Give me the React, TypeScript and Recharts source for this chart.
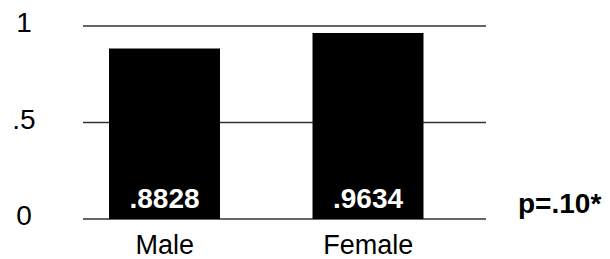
import { BarChart, Bar, XAxis, YAxis, CartesianGrid, LabelList } from "recharts";

const GROUPS = ["Male", "Female"];
const MEANS = [0.8828, 0.9634];
const Y_TICKS = [0, 0.5, 1];
const Y_TICK_LABELS = ["0", ".5", "1"];
const P_NOTE = "p=.10*";

const data = GROUPS.map((g, i) => ({ group: g, mean: MEANS[i] }));

const FONT = "'Liberation Sans', Arial, sans-serif";

function YTick({ y, payload }: any) {
  const idx = Y_TICKS.indexOf(payload.value);
  return (
    <text x={24} y={y + 6} textAnchor="middle" fontFamily={FONT} fontSize={28} fill="#000">
      {Y_TICK_LABELS[idx]}
    </text>
  );
}

function XTick({ x, y, payload }: any) {
  return (
    <text x={x} y={y + 27} textAnchor="middle" fontFamily={FONT} fontSize={27} fill="#000">
      {payload.value}
    </text>
  );
}

function ValueLabel({ x, y, width, height, value }: any) {
  return (
    <text x={x + width / 2} y={y + height - 11} textAnchor="middle" fontFamily={FONT} fontSize={28} fontWeight="bold" fill="#fff">
      {value.toFixed(4).replace(/^0/, "")}
    </text>
  );
}

export default function App() {
  return (
    <div style={{ position: "absolute", left: 0, top: 0, width: 610, height: 259, background: "#fff" }}>
      <BarChart width={610} height={259} data={data} margin={{ top: 26, right: 124, bottom: 0, left: 0 }}>
        <CartesianGrid vertical={false} stroke="#333" strokeWidth={1.5} />
        <YAxis
          width={83}
          domain={[0, 1]}
          ticks={Y_TICKS}
          axisLine={false}
          tickLine={false}
          tick={<YTick />}
        />
        <XAxis
          dataKey="group"
          height={40}
          axisLine={false}
          tickLine={false}
          padding={{ left: -20, right: 16 }}
          tick={<XTick />}
        />
        <Bar dataKey="mean" fill="#000" barSize={111} isAnimationActive={false}>
          <LabelList dataKey="mean" content={<ValueLabel />} />
        </Bar>
      </BarChart>
      <span
        style={{
          position: "absolute",
          left: 518,
          top: 188,
          fontFamily: FONT,
          fontSize: 28,
          fontWeight: "bold",
          lineHeight: "32px",
          color: "#000",
        }}
      >
        {P_NOTE}
      </span>
    </div>
  );
}
